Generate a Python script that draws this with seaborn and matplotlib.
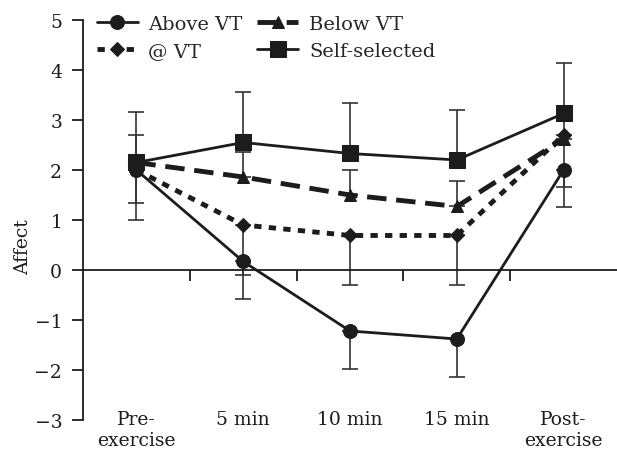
import pandas as pd
import matplotlib.pyplot as plt
import seaborn as sns

# data
cats = ["Pre-\nexercise", "5 min", "10 min", "15 min", "Post-\nexercise"]
above_vt = [2.0, 0.17, -1.22, -1.38, 2.0]
above_vt_lo = [1.33, -0.58, -1.98, -2.14, 1.25]
at_vt = [2.0, 0.9, 0.69, 0.69, 2.7]
at_vt_lo = [1.0, -0.1, -0.3, -0.3, 1.66]
below_vt = [2.15, 1.86, 1.5, 1.27, 2.62]
below_vt_hi = [2.7, 2.36, 2.0, 1.77, 3.1]
self_sel = [2.15, 2.55, 2.33, 2.2, 3.13]
self_sel_hi = [3.15, 3.55, 3.33, 3.2, 4.13]

sns.set_style("ticks")
plt.rcParams['font.family'] = ['DejaVu Serif']
ink = '#1c1c1c'

fig = plt.figure(figsize=(6.17, 4.6), dpi=100)
ax = fig.add_axes([0.1345, 0.0848, 0.8655, 0.8696])

series = [
    ("Above VT", above_vt, above_vt_lo, 'lo', dict(linestyle='-', marker='o', markersize=10, linewidth=2)),
    ("@ VT", at_vt, at_vt_lo, 'lo', dict(linestyle=(0, (1.5, 1.5)), marker='D', markersize=7, linewidth=3.5)),
    ("Below VT", below_vt, below_vt_hi, 'hi', dict(linestyle=(0, (4, 2)), marker='^', markersize=9, linewidth=3.5)),
    ("Self-selected", self_sel, self_sel_hi, 'hi', dict(linestyle='-', marker='s', markersize=12, linewidth=2)),
]

for name, vals, err, side, st in series:
    df = pd.DataFrame({'x': cats, 'y': vals})
    # one-sided error bars
    d = [abs(e - v) for e, v in zip(err, vals)]
    zero = [0] * len(vals)
    yerr = [d, zero] if side == 'lo' else [zero, d]
    ax.errorbar(range(len(cats)), vals, yerr=yerr, fmt='none', ecolor='#333333',
                elinewidth=1.2, capsize=6, capthick=1.2, zorder=1)
    sns.lineplot(data=df, x='x', y='y', ax=ax, color=ink, label=name,
                 markeredgecolor=ink, zorder=3, sort=False, **st)

ax.set_xlim(-0.5, 4.5)
ax.set_ylim(-3, 5)
ax.set_yticks(range(-3, 6))
ax.set_yticklabels([str(v).replace('-', '\u2212') for v in range(-3, 6)])
ax.spines['top'].set_visible(False)
ax.spines['right'].set_visible(False)
ax.spines['bottom'].set_position(('data', 0))
for s in ['left', 'bottom']:
    ax.spines[s].set_linewidth(1.3)
    ax.spines[s].set_color(ink)

ax.set_xticks(range(len(cats)))
ax.set_xticklabels(cats)
ax.set_xticks([0.5, 1.5, 2.5, 3.5], minor=True)
ax.tick_params(axis='x', which='major', length=0, pad=101, labelsize=13.5, colors=ink)
ax.tick_params(axis='x', which='minor', length=8, width=1.3, direction='out', color=ink)
ax.tick_params(axis='y', length=8, width=1.3, labelsize=13.5, colors=ink, pad=7)
ax.set_xlabel('')
ax.set_ylabel('Affect', fontsize=13.5, color=ink)
ax.yaxis.set_label_coords(-0.095, 0.435)

ax.legend(loc='upper left', bbox_to_anchor=(0.026, 1.012), ncol=2, frameon=False,
          fontsize=14, handlelength=2.1, columnspacing=0.75, handletextpad=0.55,
          labelspacing=0.45, borderaxespad=0, borderpad=0)

plt.savefig('out.png', dpi=100)
